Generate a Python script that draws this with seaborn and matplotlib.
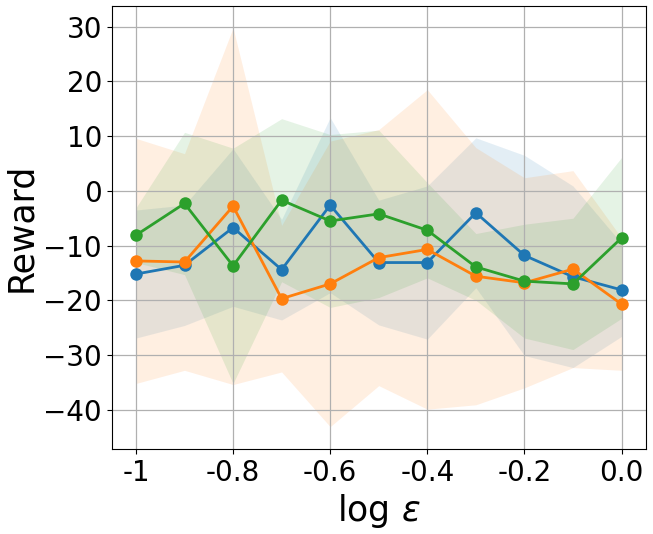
import numpy as np
import pandas as pd
import matplotlib
matplotlib.use("Agg")
import matplotlib.pyplot as plt
import seaborn as sns

log_eps = [-1.0, -0.9, -0.8, -0.7, -0.6, -0.5, -0.4, -0.3, -0.2, -0.1, 0.0]

blue_mean = [-15.2, -13.6, -6.7, -14.4, -2.6, -13.1, -13.1, -4.0, -11.8, -15.7, -18.1]
blue_std = [11.7, 11.0, 14.4, 9.2, 16.0, 11.4, 14.0, 13.7, 18.3, 16.6, 8.5]

orange_mean = [-12.8, -13.0, -2.8, -19.7, -17.0, -12.2, -10.7, -15.6, -16.8, -14.3, -20.7]
orange_std = [22.4, 19.8, 32.6, 13.4, 26.1, 23.4, 29.2, 23.5, 19.2, 18.0, 12.1]

green_mean = [-8.1, -2.3, -13.7, -1.7, -5.5, -4.2, -7.2, -13.9, -16.5, -17.0, -8.6]
green_std = [5.0, 13.0, 21.5, 14.9, 15.8, 15.3, 8.7, 6.1, 10.4, 12.0, 14.7]

xtick_vals = [-1.0, -0.8, -0.6, -0.4, -0.2, 0.0]
xtick_labels = ['-1', '-0.8', '-0.6', '-0.4', '-0.2', '0.0']
ytick_vals = [30, 20, 10, 0, -10, -20, -30, -40]

series = [
    ("blue", blue_mean, blue_std, "#1f77b4"),
    ("orange", orange_mean, orange_std, "#ff7f0e"),
    ("green", green_mean, green_std, "#2ca02c"),
]

fig = plt.figure(figsize=(6.53, 5.34), dpi=100)
ax = fig.add_axes([0.171, 0.159, 0.989 - 0.171, 0.9888 - 0.159])

for name, m, s, c in series:
    m = np.array(m)
    s = np.array(s)
    ax.fill_between(log_eps, m - s, m + s, color=c, alpha=0.12, linewidth=0)

for name, m, s, c in series:
    df = pd.DataFrame({"x": log_eps, "y": m})
    sns.lineplot(data=df, x="x", y="y", ax=ax, color=c, marker="o",
                 markersize=9, markeredgewidth=0, linewidth=2, errorbar=None)

ax.set_xlim(-1.05, 0.05)
ax.set_ylim(-47.2, 33.8)
ax.set_xticks(xtick_vals)
ax.set_xticklabels(xtick_labels)
ax.set_yticks(ytick_vals)
ax.tick_params(axis="both", labelsize=20)
ax.grid(True, color="#b0b0b0", linewidth=0.9)
ax.set_xlabel(r"log $\varepsilon$", fontsize=25)
ax.set_ylabel("Reward", fontsize=25)

fig.savefig("out.png", dpi=100)
